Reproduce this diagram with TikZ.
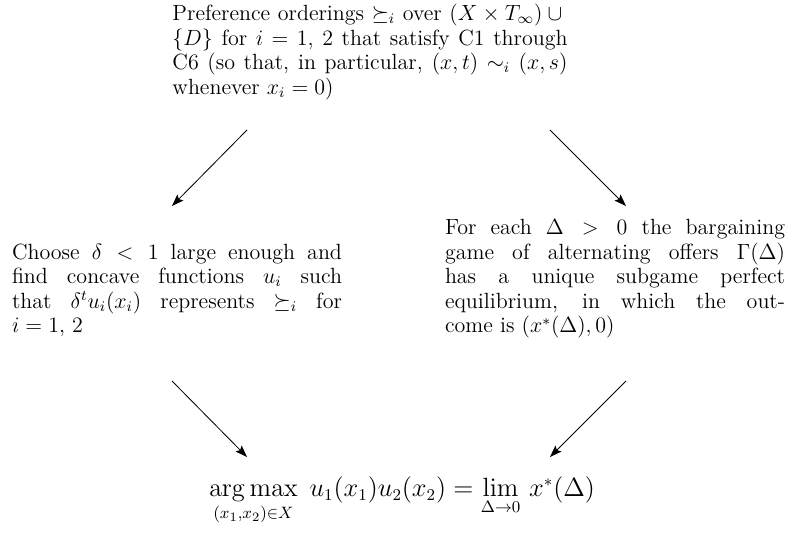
\documentclass[tikz,border=0pt]{standalone}
\usepackage{amsmath,amssymb}
\usetikzlibrary{arrows.meta}
\tikzset{
  txt/.style={inner sep=0pt, outer sep=0pt, align=justify, font=\fontsize{12}{13.4}\selectfont},
  conn/.style={line width=0.45pt, -{Stealth[length=6.5pt,width=4.6pt,inset=1.2pt]}},
}
\begin{document}
\begin{tikzpicture}[x=0.5455pt,y=-0.5455pt]
\useasboundingbox (0,0) rectangle (787,538);
\node[txt, text width=215.5pt, anchor=north] (top) at (370,4)
  {Preference orderings $\succeq_i$ over $(X\times T_\infty)\cup{}$\linebreak
   $\{D\}$ for $i=1$, $2$ that satisfy C1 through\linebreak
   C6 (so that, in particular, $(x,t)\sim_i(x,s)$\linebreak
   whenever $x_i=0$)};
\node[txt, text width=180pt, anchor=south west] (left) at (12,337)
  {Choose $\delta<1$ large enough and\linebreak
   find concave functions $u_i$ such\linebreak
   that $\delta^t u_i(x_i)$ represents $\succeq_i$ for\linebreak
   $i=1$, $2$};
\node[txt, text width=185.5pt, anchor=south west] (right) at (445,338.5)
  {For each $\Delta>0$ the bargaining\linebreak
   game of alternating offers $\Gamma(\Delta)$\linebreak
   has a unique subgame perfect\linebreak
   equilibrium, in which the out-\linebreak
   come is $(x^*(\Delta),0)$};
\node[inner sep=0pt, anchor=base, font=\fontsize{13.5}{16}\selectfont] (bot) at (402,497)
  {$\displaystyle \mathop{\mathrm{arg\,max}}\limits_{(x_1,x_2)\in X}\; u_1(x_1)u_2(x_2)=\lim_{\Delta\to 0}\,x^*(\Delta)$};
\coordinate (a1) at (247,130); \coordinate (a2) at (172,206);
\coordinate (b1) at (550,130); \coordinate (b2) at (626,206);
\coordinate (c1) at (172,381); \coordinate (c2) at (247,457);
\coordinate (d1) at (626,381); \coordinate (d2) at (550,457);
\draw[conn] (a1) -- (a2);
\draw[conn] (b1) -- (b2);
\draw[conn] (c1) -- (c2);
\draw[conn] (d1) -- (d2);
\end{tikzpicture}
\end{document}
